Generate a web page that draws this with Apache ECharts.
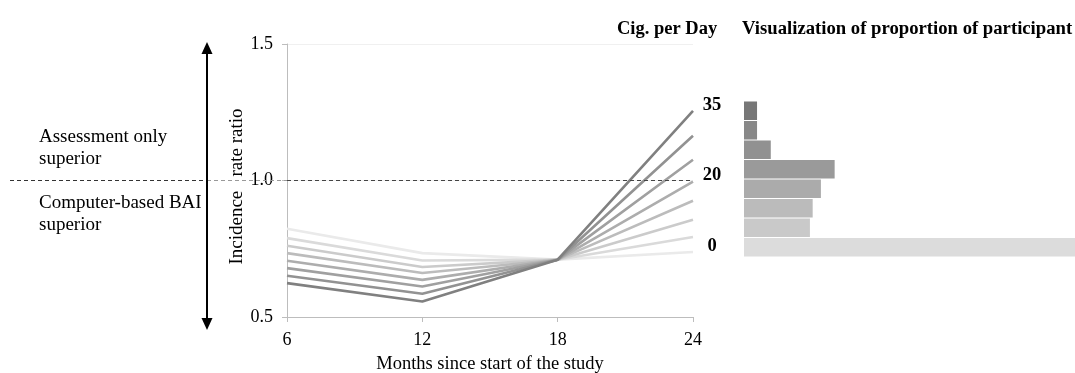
<!DOCTYPE html>
<html>
<head>
<meta charset="utf-8">
<script src="https://cdn.jsdelivr.net/npm/echarts@6/dist/echarts.min.js"></script>
<style>
  html, body { margin: 0; padding: 0; background: #fff; overflow: hidden; }
  #chart { width: 1075px; height: 373px; }
</style>
</head>
<body>
<div id="chart"></div>
<script>
// ---- data ----
const months = [6, 12, 18, 24];
const cigPerDay = ['0', '5', '10', '15', '20', '25', '30', '35'];
const irr0  = [0.823, 0.734, 0.710, 0.738];
const irr5  = [0.789, 0.707, 0.710, 0.793];
const irr10 = [0.761, 0.683, 0.710, 0.856];
const irr15 = [0.734, 0.661, 0.710, 0.926];
const irr20 = [0.706, 0.636, 0.710, 0.996];
const irr25 = [0.679, 0.612, 0.710, 1.076];
const irr30 = [0.651, 0.585, 0.710, 1.164];
const irr35 = [0.624, 0.557, 0.710, 1.255];
const participantShare = [48.2, 9.6, 10.0, 11.2, 13.2, 3.9, 1.9, 1.9];
const labelledLevels = ['0', '20', '35'];
const referenceIRR = 1.0;

// ---- styles ----
const FONT = '"Liberation Serif", "Times New Roman", serif';
const lineColors = ['#eaeaea', '#dadada', '#cbcbcb', '#bcbcbc', '#adadad', '#a0a0a0', '#929292', '#808080'];
const barColors  = ['#dcdcdc', '#c9c9c9', '#bbbbbb', '#ababab', '#9a9a9a', '#919191', '#888888', '#777777'];

const irrSeries = [irr0, irr5, irr10, irr15, irr20, irr25, irr30, irr35];

const chart = echarts.init(document.getElementById('chart'), null, { width: 1075, height: 373 });

const lineSeries = irrSeries.map((vals, i) => {
  const lvl = cigPerDay[i];
  const s = {
    type: 'line',
    name: lvl,
    xAxisIndex: 0,
    yAxisIndex: 0,
    data: months.map((m, j) => [m, vals[j]]),
    showSymbol: false,
    symbol: 'none',
    silent: true,
    lineStyle: { color: lineColors[i], width: 2.6 },
    z: 3 + i
  };
  if (labelledLevels.includes(lvl)) {
    s.endLabel = {
      show: true,
      formatter: lvl,
      distance: 10,
      offset: [9, -6],
      width: 20,
      align: 'center',
      fontFamily: FONT,
      fontWeight: 'bold',
      fontSize: 18.5,
      color: '#000'
    };
  }
  return s;
});

chart.setOption({
  animation: false,
  title: [
    { text: 'Cig. per Day', left: 617, top: 20, padding: 0,
      textStyle: { fontFamily: FONT, fontWeight: 'bold', fontSize: 18.5, color: '#000' } },
    { text: 'Visualization of proportion of participant', left: 742, top: 20, padding: 0,
      textStyle: { fontFamily: FONT, fontWeight: 'bold', fontSize: 18.7, color: '#000' } }
  ],
  grid: [
    { left: 287, width: 406, top: 44, height: 273, outerBoundsMode: 'none', containLabel: false },
    { left: 744, right: 0, top: 101, height: 156, outerBoundsMode: 'none', containLabel: false }
  ],
  xAxis: [
    {
      type: 'value', gridIndex: 0, min: 6, max: 24, interval: 6,
      name: 'Months since start of the study',
      nameLocation: 'middle', nameGap: 38,
      nameTextStyle: { fontFamily: FONT, fontSize: 18.5, color: '#000' },
      axisLine: { show: true, lineStyle: { color: '#bdbdbd', width: 1 } },
      axisTick: { show: true, length: 5, lineStyle: { color: '#bdbdbd' } },
      axisLabel: { fontFamily: FONT, fontSize: 18, color: '#000', margin: 14 },
      splitLine: { show: false }
    },
    {
      type: 'value', gridIndex: 1, min: 0, max: 48.2, show: false
    }
  ],
  yAxis: [
    {
      type: 'value', gridIndex: 0, min: 0.5, max: 1.5, interval: 0.5,
      name: 'Incidence   rate ratio',
      nameLocation: 'middle', nameGap: 40, nameRotate: 90,
      nameTextStyle: { fontFamily: FONT, fontSize: 19, color: '#000', padding: [0, 0, 0, -12] },
      axisLine: { show: true, lineStyle: { color: '#bdbdbd', width: 1 } },
      axisTick: { show: true, length: 5, lineStyle: { color: '#bdbdbd' } },
      axisLabel: { fontFamily: FONT, fontSize: 18, color: '#000', margin: 14,
        formatter: v => v.toFixed(1) },
      splitLine: { show: true, lineStyle: { color: '#f0f0f0', width: 1 } }
    },
    {
      type: 'category', gridIndex: 1, data: cigPerDay,
      axisLine: { show: false }, axisTick: { show: false },
      axisLabel: { show: false }
    }
  ],
  series: [
    ...lineSeries,
    {
      type: 'bar',
      xAxisIndex: 1, yAxisIndex: 1,
      data: participantShare.map((v, i) => ({ value: v, itemStyle: { color: barColors[i] } })),
      barCategoryGap: '5%',
      silent: true
    }
  ]
});

// ---- annotations positioned from the axes ----
const pRef = chart.convertToPixel({ xAxisIndex: 0, yAxisIndex: 0 }, [6, referenceIRR]);
const pTop = chart.convertToPixel({ xAxisIndex: 0, yAxisIndex: 0 }, [24, 1.5]);
const pBot = chart.convertToPixel({ xAxisIndex: 0, yAxisIndex: 0 }, [6, 0.5]);
const xLeft = pRef[0], yRef = pRef[1], xRight = pTop[0];
const arrowX = 207, arrowTop = pTop[1] - 2, arrowBot = pBot[1] + 13;

chart.setOption({
  graphic: [
    { type: 'line', silent: true, z: 20,
      shape: { x1: 10, y1: yRef, x2: arrowX, y2: yRef },
      style: { stroke: '#333', lineWidth: 1, lineDash: [4, 3] } },
    { type: 'line', silent: true, z: 20,
      shape: { x1: arrowX, y1: yRef, x2: xLeft, y2: yRef },
      style: { stroke: '#999', lineWidth: 1, lineDash: [4, 3] } },
    { type: 'line', silent: true, z: 20,
      shape: { x1: xLeft, y1: yRef, x2: xRight, y2: yRef },
      style: { stroke: '#444', lineWidth: 1, lineDash: [4, 3] } },
    { type: 'line', silent: true, z: 21,
      shape: { x1: arrowX, y1: arrowTop + 10, x2: arrowX, y2: arrowBot - 10 },
      style: { stroke: '#000', lineWidth: 2 } },
    { type: 'polygon', silent: true, z: 21,
      shape: { points: [[arrowX, arrowTop], [arrowX - 5.5, arrowTop + 12], [arrowX + 5.5, arrowTop + 12]] },
      style: { fill: '#000' } },
    { type: 'polygon', silent: true, z: 21,
      shape: { points: [[arrowX, arrowBot], [arrowX - 5.5, arrowBot - 12], [arrowX + 5.5, arrowBot - 12]] },
      style: { fill: '#000' } },
    { type: 'text', silent: true, left: 39, top: yRef - 54,
      style: { text: 'Assessment only\nsuperior', fontFamily: FONT, fontSize: 19,
        lineHeight: 22, fill: '#000' } },
    { type: 'text', silent: true, left: 39, top: yRef + 12,
      style: { text: 'Computer-based BAI\nsuperior', fontFamily: FONT, fontSize: 19,
        lineHeight: 22, fill: '#000' } }
  ]
});
</script>
</body>
</html>
